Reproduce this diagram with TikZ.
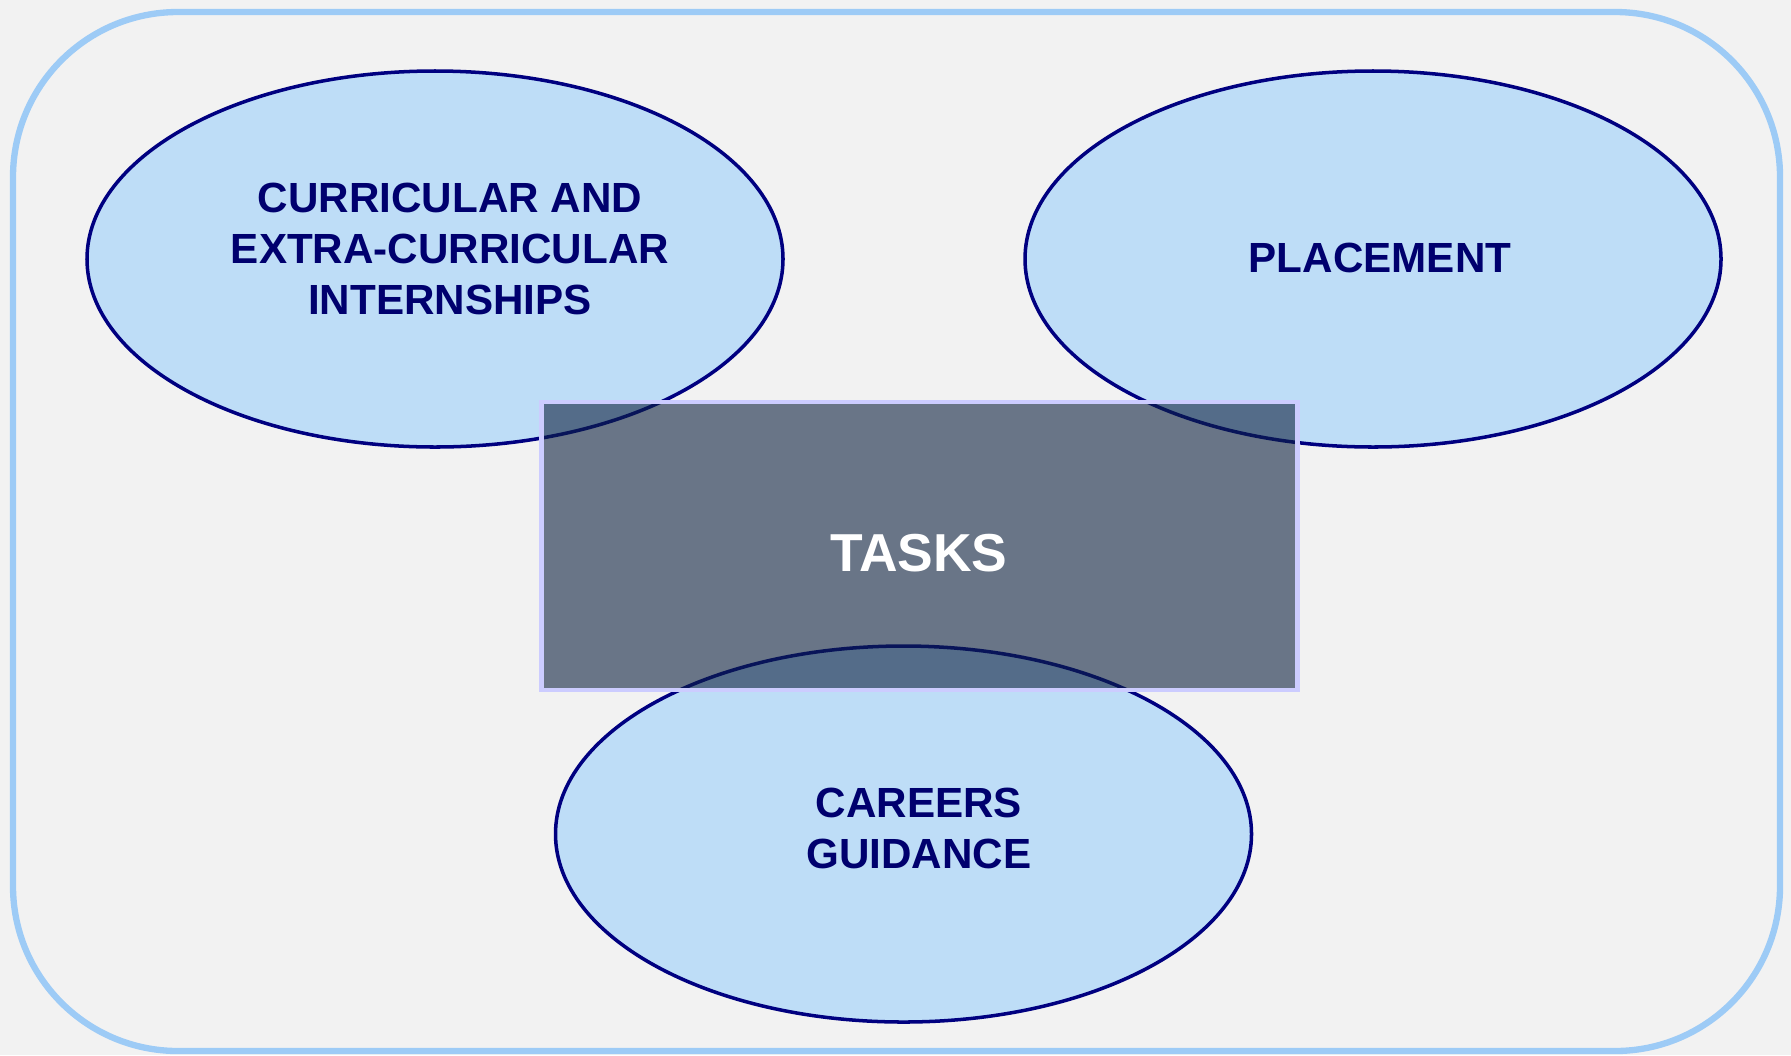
\documentclass[tikz,border=0pt]{standalone}
\usepackage{fontspec}
\setmainfont{Liberation Sans}
\usetikzlibrary{shapes.geometric, positioning}
\usepackage{xcolor}
\definecolor{PanelGrey}{HTML}{F2F2F2}
\definecolor{FrameBlue}{HTML}{9DCBF6}
\definecolor{ZoneFill}{HTML}{BEDDF7}
\definecolor{ZoneNavy}{HTML}{000080}
\definecolor{TextNavy}{HTML}{00006E}
\definecolor{TaskSlate}{HTML}{0E2240}
\definecolor{TaskEdge}{HTML}{CCCCFF}
\tikzset{
    % Background panel with rounded corners
    frame/.style={
        draw=FrameBlue,
        fill=PanelGrey,
        line width=1.8pt,
        rounded corners=1.65cm
    },
    % Activity areas
    zone/.style={
        ellipse,
        draw=ZoneNavy,
        fill=ZoneFill,
        line width=1pt,
        minimum width=6.96cm,
        minimum height=3.76cm,
        inner sep=0pt
    },
    zonetext/.style={
        align=center,
        text=TextNavy,
        font=\fontsize{12}{14.5}\selectfont\bfseries
    },
    % Central block laid over the areas
    taskbox/.style={
        rectangle,
        draw=TaskEdge,
        fill=TaskSlate,
        fill opacity=0.6,
        text opacity=1,
        line width=1.4pt,
        minimum width=7.56cm,
        minimum height=2.88cm,
        inner sep=0pt
    },
    tasktext/.style={
        text=white,
        font=\fontsize{15.2}{18}\selectfont\bfseries
    }
}
\begin{document}
\begin{tikzpicture}
    \useasboundingbox (0,0) rectangle (17.91,10.55);
    \fill[PanelGrey] (0,0) rectangle (17.91,10.55);
    \draw[frame] (0.13,0.04) rectangle (17.80,10.43);

    \node[zone] (intern) at (4.35,7.96) {};
    \node[zonetext] (interntext) at (4.50,8.06) {CURRICULAR AND\\EXTRA-CURRICULAR\\INTERNSHIPS};

    \node[zone] (place) at (13.73,7.96) {};
    \node[zonetext] (placetext) at (13.80,7.97) {PLACEMENT};

    \node[zone] (career) at (9.035,2.21) {};
    \node[zonetext] (careertext) at (9.19,2.27) {CAREERS\\GUIDANCE};

    \node[taskbox] (tasks) at (9.195,5.09) {};
    \node[tasktext] (taskstext) at (9.19,5.02) {TASKS};
\end{tikzpicture}
\end{document}
